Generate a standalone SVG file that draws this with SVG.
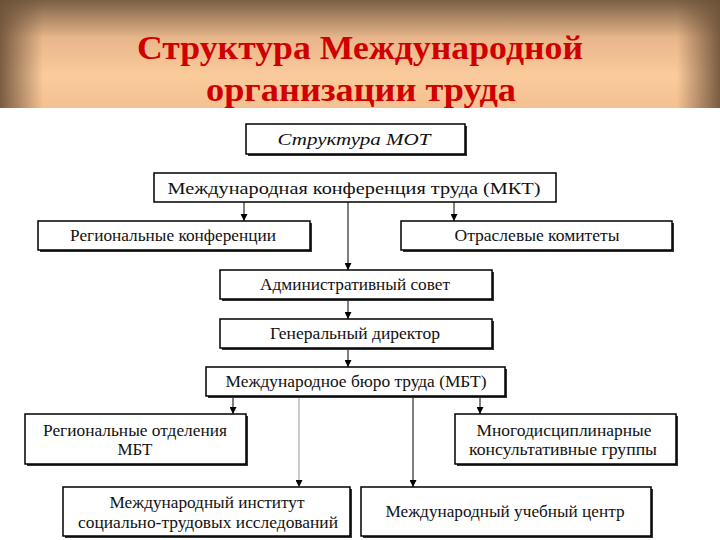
<svg xmlns="http://www.w3.org/2000/svg" width="720" height="540" viewBox="0 0 720 540">
<defs>
<linearGradient id="gv" x1="0" y1="0" x2="0" y2="1"><stop offset="0" stop-color="#7a5f45"/><stop offset="0.35" stop-color="#e8b68a"/><stop offset="0.7" stop-color="#fbcb9b"/><stop offset="1" stop-color="#f3c091"/></linearGradient>
<linearGradient id="gh" x1="0" y1="0" x2="1" y2="0"><stop offset="0" stop-color="#6b5038" stop-opacity="0.9"/><stop offset="0.06" stop-color="#6b5038" stop-opacity="0"/><stop offset="0.94" stop-color="#6b5038" stop-opacity="0"/><stop offset="1" stop-color="#6b5038" stop-opacity="0.9"/></linearGradient>
<marker id="ar" viewBox="0 0 10 10" refX="10" refY="5" markerWidth="7" markerHeight="7" orient="auto" markerUnits="userSpaceOnUse"><path d="M0,0L10,5L0,10z" fill="#000"/></marker>
</defs>
<style>
.b{fill:#fff;stroke:#000;stroke-width:1.5}
.s{fill:#333}
.t{font-family:"Liberation Serif",serif;font-size:17px;fill:#111;text-anchor:middle}
.c{stroke:#000;stroke-width:1;fill:none;marker-end:url(#ar)}
.g{stroke:#999}
.h{font-family:"Liberation Serif",serif;font-size:34px;font-weight:bold;fill:#d00000;text-anchor:middle}
</style>
<rect width="720" height="540" fill="#fff"/>
<rect width="720" height="108" fill="url(#gv)"/>
<rect width="720" height="108" fill="url(#gh)"/>
<text class="h" x="360" y="59" textLength="446" lengthAdjust="spacingAndGlyphs">Структура Международной</text>
<text class="h" x="361" y="101" textLength="310" lengthAdjust="spacingAndGlyphs">организации труда</text>
<g id="connectors">
<line class="c" x1="244" y1="202" x2="244" y2="221"/>
<line class="c" x1="454" y1="202" x2="454" y2="221"/>
<line class="c" x1="348" y1="202" x2="348" y2="270"/>
<line class="c" x1="348" y1="299" x2="348" y2="319"/>
<line class="c" x1="348" y1="348" x2="348" y2="367"/>
<line class="c" x1="233" y1="396" x2="233" y2="414"/>
<line class="c" x1="480" y1="396" x2="480" y2="414"/>
<line class="c g" x1="299" y1="396" x2="299" y2="487"/>
<line class="c" x1="413" y1="396" x2="413" y2="487"/>
</g>
<g id="n1"><rect class="s" x="248" y="126" width="219" height="30"/><rect class="b" x="246" y="124" width="219" height="30"/><text class="t" x="354" y="145" font-style="italic" textLength="153" lengthAdjust="spacingAndGlyphs">Структура МОТ</text></g>
<g id="n2"><rect class="b" x="154" y="173" width="402" height="29"/><text class="t" x="354" y="194" textLength="373" lengthAdjust="spacingAndGlyphs">Международная конференция труда (МКТ)</text></g>
<g id="n3"><rect class="s" x="40" y="223" width="272" height="29"/><rect class="b" x="38" y="221" width="272" height="29"/><text class="t" x="173" y="241" textLength="206" lengthAdjust="spacingAndGlyphs">Региональные конференции</text></g>
<g id="n4"><rect class="s" x="403" y="223" width="271" height="29"/><rect class="b" x="401" y="221" width="271" height="29"/><text class="t" x="537" y="241" textLength="165" lengthAdjust="spacingAndGlyphs">Отраслевые комитеты</text></g>
<g id="n5"><rect class="s" x="222" y="272" width="272" height="29"/><rect class="b" x="220" y="270" width="272" height="29"/><text class="t" x="355" y="290" textLength="190" lengthAdjust="spacingAndGlyphs">Административный совет</text></g>
<g id="n6"><rect class="s" x="222" y="321" width="272" height="29"/><rect class="b" x="220" y="319" width="272" height="29"/><text class="t" x="355" y="339" textLength="170" lengthAdjust="spacingAndGlyphs">Генеральный директор</text></g>
<g id="n7"><rect class="s" x="208" y="369" width="299" height="29"/><rect class="b" x="206" y="367" width="299" height="29"/><text class="t" x="356" y="387" textLength="261" lengthAdjust="spacingAndGlyphs">Международное бюро труда (МБТ)</text></g>
<g id="n8"><rect class="s" x="27" y="416" width="221" height="50"/><rect class="b" x="25" y="414" width="221" height="50"/><text class="t" x="135" y="436" textLength="184" lengthAdjust="spacingAndGlyphs">Региональные отделения</text><text class="t" x="135" y="455" textLength="35" lengthAdjust="spacingAndGlyphs">МБТ</text></g>
<g id="n9"><rect class="s" x="457" y="416" width="221" height="50"/><rect class="b" x="455" y="414" width="221" height="50"/><text class="t" x="564" y="436" textLength="175" lengthAdjust="spacingAndGlyphs">Многодисциплинарные</text><text class="t" x="563" y="455" textLength="188" lengthAdjust="spacingAndGlyphs">консультативные группы</text></g>
<g id="n10"><rect class="s" x="65" y="489" width="287" height="49"/><rect class="b" x="63" y="487" width="287" height="49"/><text class="t" x="207" y="508" textLength="195" lengthAdjust="spacingAndGlyphs">Международный институт</text><text class="t" x="208" y="528" textLength="260" lengthAdjust="spacingAndGlyphs">социально-трудовых исследований</text></g>
<g id="n11"><rect class="s" x="363" y="489" width="290" height="49"/><rect class="b" x="361" y="487" width="290" height="49"/><text class="t" x="505" y="517" textLength="239" lengthAdjust="spacingAndGlyphs">Международный учебный центр</text></g>
</svg>
